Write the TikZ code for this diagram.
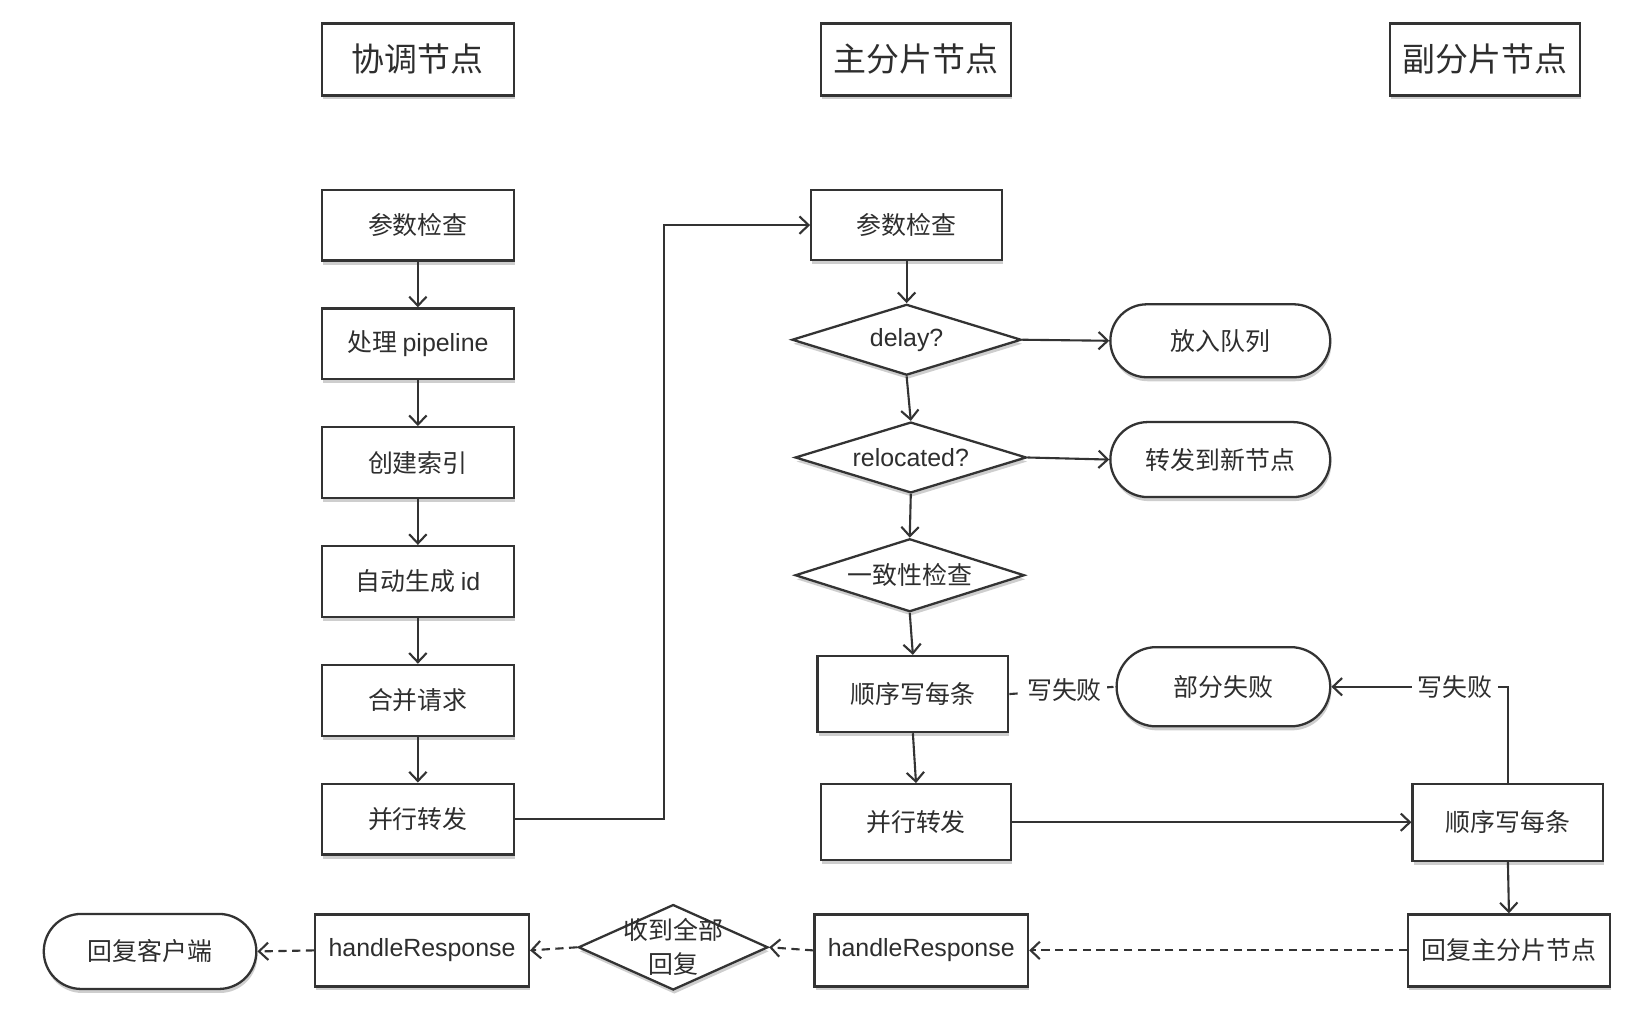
\documentclass[tikz,border=0pt]{standalone}
\usepackage{fontspec}
\setmainfont{Noto Sans CJK SC}
\newfontfamily\lat{Liberation Sans}
\usetikzlibrary{shapes.geometric,shapes.misc,arrows.meta,shadows}
\definecolor{linec}{HTML}{333333}
\definecolor{textc}{HTML}{2E2E2E}
\tikzset{
  sz/.style 2 args={minimum width=#1*0.02cm, minimum height=#2*0.02cm},
  base/.style={draw=linec, line width=1.25pt, text=textc, fill=white,
    font=\fontsize{13.6}{18.7}\selectfont, inner sep=0pt,
    drop shadow={shadow xshift=0.6pt, shadow yshift=-2.2pt, opacity=0.38}},
  box/.style={base, rectangle},
  hdr/.style={base, rectangle, font=\fontsize{18}{22}\selectfont},
  dia/.style={base, diamond, aspect=3.2},
  pill/.style={base, rounded rectangle},
  arr/.style={draw=linec, line width=1.15pt, -{Straight Barb[length=5pt,width=9.5pt]}},
  dsh/.style={arr, dash pattern=on 4.5pt off 3pt},
  dline/.style={draw=linec, line width=1.15pt, dash pattern=on 4.5pt off 3pt},
  lbl/.style={fill=white, text=textc, font=\fontsize{13.6}{18.7}\selectfont, inner sep=3pt},
  txt/.style={text=textc, font=\fontsize{13.6}{18.7}\selectfont, align=center, inner sep=0pt}
}
\begin{document}
\begin{tikzpicture}[x=0.02cm, y=-0.02cm]
\fill[white] (0,0) rectangle (1568,971);
\useasboundingbox (0,0) rectangle (1568,971);

% headers
\node[hdr, sz={184}{69}] (h1) at (401,57) {协调节点};
\node[hdr, sz={182}{69}] (h2) at (879,57) {主分片节点};
\node[hdr, sz={183}{69}] (h3) at (1425,57) {副分片节点};

% coordinating node column
\node[box, sz={184}{68}] (l1) at (401,216) {参数检查};
\node[box, sz={184}{68}] (l2) at (401,330) {处理 {\lat pipeline}};
\node[box, sz={184}{68}] (l3) at (401,444) {创建索引};
\node[box, sz={184}{68}] (l4) at (401,558) {自动生成 {\lat id}};
\node[box, sz={184}{68}] (l5) at (401,672) {合并请求};
\node[box, sz={184}{68}] (l6) at (401,786) {并行转发};

% primary shard column
\node[box, sz={183}{67}] (m1) at (870,216) {参数检查};
\node[dia, sz={220}{68}] (d1) at (870,326) {\lat delay?};
\node[pill, sz={211}{70}] (q1) at (1171,327) {放入队列};
\node[dia, sz={222}{68}] (d2) at (874,439) {\lat relocated?};
\node[pill, sz={211}{72}] (q2) at (1171,441) {转发到新节点};
\node[dia, sz={220}{70}] (d3) at (873,552) {一致性检查};
\node[box, sz={183}{73}] (m2) at (876,666) {顺序写每条};
\node[pill, sz={205}{76}] (pf) at (1174,659) {部分失败};
\node[box, sz={182}{73}] (m3) at (879,789) {并行转发};

% replica column
\node[box, sz={183}{74}] (r1) at (1447,789) {顺序写每条};
\node[box, sz={194}{69}] (r2) at (1448,912) {回复主分片节点};

% bottom row
\node[box, sz={205}{69}] (hr2) at (884,912) {\lat handleResponse};
\node[dia, sz={182}{82}] (all) at (646,909) {};
\node[txt] (allt) at (all.center) {收到全部\\回复};
\node[box, sz={205}{69}] (hr1) at (405,912) {\lat handleResponse};
\node[pill, sz={204}{72}] (cl) at (144,913) {回复客户端};

% connectors left column
\draw[arr] (l1) -- (l2);
\draw[arr] (l2) -- (l3);
\draw[arr] (l3) -- (l4);
\draw[arr] (l4) -- (l5);
\draw[arr] (l5) -- (l6);
\draw[arr] (l6.east) -- ++(143,0) |- (m1.west);

% primary column
\draw[arr] (m1.south) -- (d1.north);
\draw[arr] (d1.east) -- (q1.west);
\draw[arr] (d1.south) -- (d2.north);
\draw[arr] (d2.east) -- (q2.west);
\draw[arr] (d2.south) -- (d3.north);
\draw[arr] (d3.south) -- (m2.north);
\draw[arr] (m2.south) -- (m3.north);
\draw[dline] (m2.east) -- node[lbl, pos=0.52] {写失败} (pf.west);
\draw[arr] (m3.east) -- (r1.west);

% replica
\draw[arr] (r1.north) |- node[lbl, pos=0.65] {写失败} (pf.east);
\draw[arr] (r1.south) -- (r2.north);

% responses
\draw[dsh] (r2.west) -- (hr2.east);
\draw[dsh] (hr2.west) -- (all.east);
\draw[dsh] (all.west) -- (hr1.east);
\draw[dsh] (hr1.west) -- (cl.east);
\end{tikzpicture}
\end{document}
